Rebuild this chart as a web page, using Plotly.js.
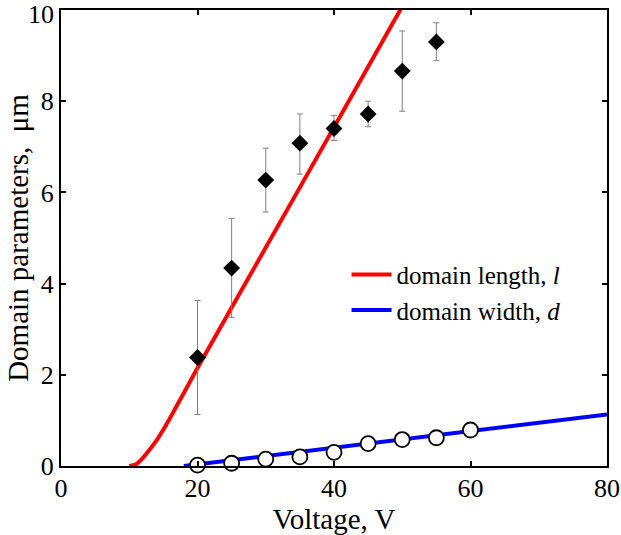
<!DOCTYPE html>
<html>
<head>
<meta charset="utf-8">
<script src="https://cdn.plot.ly/plotly-3.0.1.min.js"></script>
<style>html,body{margin:0;padding:0;background:#fff;}#chart{width:621px;height:535px;}</style>
</head>
<body>
<div id="chart"></div>
<script>
// Domain length fit curve (red)
const lenX = [10, 11, 12, 13, 14, 15, 16, 18, 20, 30, 40, 50];
const lenY = [0, 0.04, 0.18, 0.36, 0.56, 0.80, 1.06, 1.60, 2.15, 4.79, 7.43, 10.08];
// Domain width fit line (blue)
const widX = [18, 40, 60, 80];
const widY = [0, 0.40, 0.77, 1.13];
// Measured domain length (diamonds)
const measX = [20, 25, 30, 35, 40, 45, 50, 55];
const measY = [2.38, 4.34, 6.27, 7.08, 7.40, 7.72, 8.66, 9.30];
const measErrUp = [1.25, 1.09, 0.70, 0.64, 0.29, 0.28, 0.88, 0.42];
const measErrDown = [1.25, 1.08, 0.70, 0.68, 0.26, 0.28, 0.88, 0.41];
// Measured domain width (circles)
const circX = [20, 25, 30, 35, 40, 45, 50, 55, 60];
const circY = [0.02, 0.06, 0.15, 0.20, 0.30, 0.49, 0.58, 0.62, 0.79];
// Tick labels
const xTicks = [0, 20, 40, 60, 80];
const yTicks = [0, 2, 4, 6, 8, 10];

const font = "Liberation Serif, Times New Roman, serif";
const yTop = yTicks[yTicks.length - 1];
// the top y label is drawn as an annotation so it can sit just inside the page
const yTickText = yTicks.map(v => v === yTop ? '' : String(v));

const traces = [
  {x: lenX, y: lenY, mode: 'lines', line: {color: '#ff0000', width: 4, shape: 'spline', smoothing: 0.6},
   name: 'domain length, <i>l</i>', showlegend: true},
  {x: widX, y: widY, mode: 'lines', line: {color: '#0000ff', width: 4},
   name: 'domain width, <i>d</i>', showlegend: true},
  {x: measX, y: measY, mode: 'markers', showlegend: false,
   marker: {symbol: 'diamond', size: 13, color: '#000000'},
   error_y: {type: 'data', symmetric: false, array: measErrUp, arrayminus: measErrDown,
             color: '#808080', thickness: 1, width: 3}},
  {x: circX, y: circY, mode: 'markers', showlegend: false, cliponaxis: false,
   marker: {symbol: 'circle', size: 15, color: '#ffffff', line: {color: '#000000', width: 1.8}}}
];

const axisCommon = {
  showgrid: false, zeroline: false, showline: true, linecolor: '#000', linewidth: 2,
  mirror: 'ticks', ticks: 'inside', ticklen: 5, tickwidth: 2, tickcolor: '#000',
  ticklabeloverflow: 'allow',
  tickfont: {family: font, size: 26, color: '#000'}
};

const layout = {
  width: 621, height: 535,
  margin: {l: 61, r: 14, t: 10, b: 69},
  paper_bgcolor: '#fff', plot_bgcolor: '#fff',
  font: {family: font, color: '#000'},
  showlegend: true,
  legend: {x: 0.523, y: 0.47, xanchor: 'left', yanchor: 'top', bgcolor: 'rgba(0,0,0,0)',
           itemwidth: 40, font: {family: font, size: 25, color: '#000'}, tracegroupgap: 0},
  xaxis: Object.assign({}, axisCommon, {range: [0, 80], tickmode: 'array', tickvals: xTicks,
           ticktext: xTicks.map(String), ticklabelstandoff: -2,
           title: {text: 'Voltage, V', font: {family: font, size: 29, color: '#000'}, standoff: 0}}),
  yaxis: Object.assign({}, axisCommon, {range: [0, 10], tickmode: 'array', tickvals: yTicks,
           ticktext: yTickText, ticklabelstandoff: 0,
           title: {text: 'Domain parameters,  μm', font: {family: font, size: 29, color: '#000'}, standoff: 4}}),
  annotations: [{xref: 'paper', yref: 'y', x: 0, y: yTop, text: String(yTop), showarrow: false,
                 xanchor: 'right', yanchor: 'middle', xshift: -6, yshift: -4, borderpad: 0,
                 font: {family: font, size: 26, color: '#000'}}]
};

Plotly.newPlot('chart', traces, layout, {displayModeBar: false, staticPlot: true});
</script>
</body>
</html>
